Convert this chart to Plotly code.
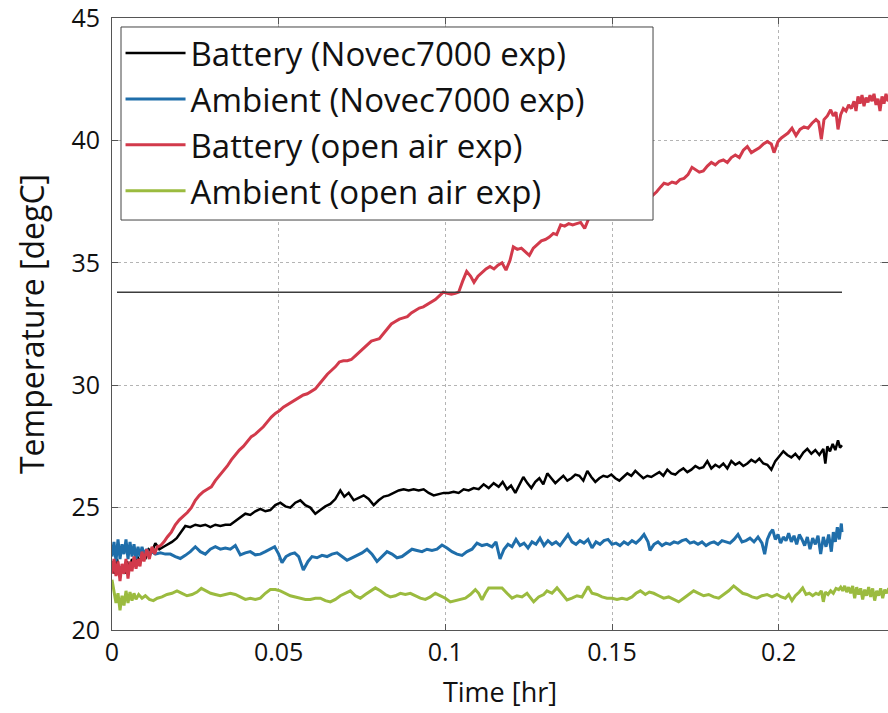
import plotly.graph_objects as go

# Time stamps [hr] and temperatures [degC] for each thermocouple record
t_bat_novec = [0.0000, 0.0008, 0.0015, 0.0022, 0.0030, 0.0038, 0.0045, 0.0052, 0.0060, 0.0068,
               0.0076, 0.0084, 0.0092, 0.0100, 0.0110, 0.0120, 0.0130, 0.0142, 0.0155, 0.0168,
               0.0180, 0.0194, 0.0207, 0.0220, 0.0235, 0.0250, 0.0265, 0.0280, 0.0295, 0.0310,
               0.0325, 0.0340, 0.0355, 0.0370, 0.0385, 0.0400, 0.0415, 0.0430, 0.0445, 0.0460,
               0.0475, 0.0490, 0.0505, 0.0520, 0.0535, 0.0550, 0.0565, 0.0580, 0.0595, 0.0610,
               0.0625, 0.0640, 0.0655, 0.0670, 0.0685, 0.0697, 0.0710, 0.0725, 0.0740, 0.0755,
               0.0770, 0.0785, 0.0800, 0.0815, 0.0830, 0.0845, 0.0860, 0.0875, 0.0890, 0.0905,
               0.0920, 0.0935, 0.0950, 0.0965, 0.0980, 0.0995, 0.1010, 0.1025, 0.1040, 0.1055,
               0.1070, 0.1085, 0.1100, 0.1115, 0.1130, 0.1145, 0.1160, 0.1172, 0.1185, 0.1197,
               0.1210, 0.1222, 0.1234, 0.1246, 0.1258, 0.1270, 0.1282, 0.1294, 0.1306, 0.1318,
               0.1330, 0.1342, 0.1354, 0.1366, 0.1378, 0.1390, 0.1402, 0.1414, 0.1426, 0.1438,
               0.1450, 0.1462, 0.1474, 0.1486, 0.1498, 0.1510, 0.1522, 0.1534, 0.1546, 0.1558,
               0.1570, 0.1582, 0.1594, 0.1606, 0.1618, 0.1630, 0.1642, 0.1654, 0.1666, 0.1678,
               0.1690, 0.1702, 0.1714, 0.1726, 0.1738, 0.1750, 0.1762, 0.1774, 0.1786, 0.1798,
               0.1810, 0.1822, 0.1834, 0.1846, 0.1858, 0.1870, 0.1882, 0.1894, 0.1906, 0.1918,
               0.1930, 0.1942, 0.1954, 0.1966, 0.1978, 0.1990, 0.2002, 0.2014, 0.2026, 0.2038,
               0.2050, 0.2062, 0.2074, 0.2086, 0.2098, 0.2110, 0.2122, 0.2134, 0.2140, 0.2146,
               0.2154, 0.2162, 0.2170, 0.2178, 0.2184, 0.2190]
T_bat_novec = [22.8, 22.3, 22.9, 22.4, 22.6, 22.3, 22.8, 22.5, 22.9, 22.6,
               23.0, 22.8, 23.1, 22.9, 23.3, 23.2, 23.55, 23.3, 23.4, 23.5,
               23.6, 23.75, 24.0, 24.25, 24.2, 24.3, 24.25, 24.3, 24.2, 24.3,
               24.25, 24.3, 24.3, 24.45, 24.6, 24.75, 24.7, 24.85, 24.95, 24.85,
               24.9, 25.1, 25.2, 25.05, 25.0, 25.2, 25.3, 25.1, 25.0, 24.75,
               24.9, 25.05, 25.15, 25.35, 25.7, 25.45, 25.6, 25.3, 25.4, 25.5,
               25.35, 25.1, 25.3, 25.45, 25.5, 25.6, 25.7, 25.75, 25.7, 25.75,
               25.7, 25.75, 25.6, 25.5, 25.55, 25.6, 25.6, 25.65, 25.6, 25.75,
               25.7, 25.8, 25.75, 25.95, 25.8, 26.0, 25.85, 26.05, 25.75, 25.9,
               25.6, 25.9, 26.25, 26.0, 25.8, 26.05, 26.2, 25.95, 26.4, 26.2,
               26.0, 26.15, 26.3, 26.1, 26.2, 26.35, 26.3, 26.1, 26.5, 26.25,
               26.05, 26.2, 26.3, 26.25, 26.35, 26.2, 26.1, 26.25, 26.4, 26.3,
               26.5, 26.35, 26.2, 26.3, 26.25, 26.35, 26.45, 26.3, 26.55, 26.4,
               26.35, 26.5, 26.6, 26.45, 26.55, 26.7, 26.6, 26.65, 26.9, 26.6,
               26.75, 26.65, 26.8, 26.6, 26.9, 26.75, 26.85, 26.7, 26.8, 26.95,
               26.85, 27.0, 26.8, 26.75, 26.55, 26.9, 27.1, 27.3, 27.15, 27.05,
               27.2, 27.0, 27.25, 27.4, 27.2, 27.35, 27.15, 27.4, 26.8, 27.5,
               27.3, 27.6, 27.35, 27.75, 27.45, 27.55]

t_amb_novec = [0.0000, 0.0006, 0.0012, 0.0018, 0.0024, 0.0030, 0.0036, 0.0042, 0.0048, 0.0054,
               0.0060, 0.0066, 0.0072, 0.0078, 0.0084, 0.0090, 0.0096, 0.0104, 0.0112, 0.0120,
               0.0130, 0.0145, 0.0160, 0.0175, 0.0190, 0.0205, 0.0220, 0.0235, 0.0250, 0.0265,
               0.0280, 0.0295, 0.0310, 0.0325, 0.0340, 0.0355, 0.0370, 0.0385, 0.0400, 0.0415,
               0.0430, 0.0445, 0.0460, 0.0475, 0.0488, 0.0500, 0.0510, 0.0522, 0.0535, 0.0548,
               0.0560, 0.0574, 0.0588, 0.0600, 0.0615, 0.0630, 0.0645, 0.0660, 0.0675, 0.0690,
               0.0705, 0.0720, 0.0735, 0.0750, 0.0765, 0.0780, 0.0795, 0.0810, 0.0825, 0.0840,
               0.0855, 0.0870, 0.0885, 0.0900, 0.0915, 0.0930, 0.0945, 0.0960, 0.0975, 0.0990,
               0.1005, 0.1020, 0.1035, 0.1050, 0.1065, 0.1080, 0.1095, 0.1110, 0.1125, 0.1140,
               0.1152, 0.1164, 0.1176, 0.1188, 0.1200, 0.1212, 0.1224, 0.1236, 0.1248, 0.1260,
               0.1272, 0.1284, 0.1296, 0.1308, 0.1320, 0.1332, 0.1344, 0.1356, 0.1368, 0.1380,
               0.1392, 0.1404, 0.1416, 0.1428, 0.1440, 0.1452, 0.1464, 0.1476, 0.1488, 0.1500,
               0.1512, 0.1524, 0.1536, 0.1548, 0.1560, 0.1572, 0.1584, 0.1596, 0.1608, 0.1614,
               0.1626, 0.1638, 0.1650, 0.1662, 0.1674, 0.1686, 0.1698, 0.1710, 0.1722, 0.1734,
               0.1746, 0.1758, 0.1770, 0.1782, 0.1794, 0.1806, 0.1818, 0.1830, 0.1842, 0.1854,
               0.1866, 0.1878, 0.1890, 0.1902, 0.1914, 0.1926, 0.1938, 0.1950, 0.1958, 0.1966,
               0.1974, 0.1982, 0.1990, 0.1998, 0.2006, 0.2014, 0.2022, 0.2030, 0.2038, 0.2046,
               0.2054, 0.2062, 0.2070, 0.2078, 0.2086, 0.2094, 0.2102, 0.2110, 0.2118, 0.2126,
               0.2134, 0.2142, 0.2150, 0.2158, 0.2164, 0.2170, 0.2176, 0.2182, 0.2188, 0.2190]
T_amb_novec = [23.0, 23.6, 22.8, 23.7, 22.9, 23.5, 23.1, 23.7, 22.9, 23.6,
               23.0, 23.5, 22.9, 23.4, 23.0, 23.4, 23.1, 23.3, 23.05, 23.2,
               23.1, 23.15, 23.1, 23.1, 23.0, 22.92, 23.05, 23.2, 23.4, 23.2,
               23.1, 23.3, 23.4, 23.3, 23.35, 23.3, 23.45, 23.07, 23.15, 23.2,
               23.07, 23.1, 23.2, 23.3, 23.4, 23.1, 22.75, 23.0, 23.1, 23.15,
               23.0, 22.45, 22.8, 23.0, 22.95, 23.05, 23.0, 23.1, 23.15, 23.0,
               22.85, 22.95, 23.05, 23.15, 23.3, 23.1, 22.8, 23.0, 23.2, 23.1,
               22.95, 23.0, 23.15, 23.3, 23.25, 23.2, 23.3, 23.25, 23.3, 23.47,
               23.35, 23.2, 23.1, 23.05, 23.2, 23.3, 23.55, 23.45, 23.5, 23.4,
               23.6, 22.9, 23.3, 23.5, 23.4, 23.7, 23.45, 23.55, 23.35, 23.6,
               23.5, 23.75, 23.45, 23.65, 23.5, 23.6, 23.45, 23.7, 23.9, 23.6,
               23.5, 23.65, 23.55, 23.7, 23.35, 23.6, 23.5, 23.65, 23.7, 23.5,
               23.55, 23.45, 23.6, 23.5, 23.65, 23.55, 23.7, 23.9, 23.6, 23.25,
               23.5, 23.6, 23.45, 23.55, 23.5, 23.6, 23.55, 23.65, 23.7, 23.55,
               23.6, 23.5, 23.6, 23.45, 23.55, 23.6, 23.5, 23.65, 23.6, 23.55,
               23.7, 23.9, 23.6, 23.65, 23.75, 23.6, 23.8, 23.55, 23.1, 23.7,
               23.95, 24.1, 23.7, 23.9, 23.55, 23.8, 23.65, 23.95, 23.6, 23.85,
               23.5, 23.9, 23.7, 23.45, 23.8, 23.3, 23.75, 23.5, 23.85, 23.1,
               23.8, 23.4, 23.9, 23.2, 24.0, 23.6, 24.2, 23.7, 24.35, 24.0]

t_bat_air = [0.0000, 0.0006, 0.0012, 0.0018, 0.0024, 0.0030, 0.0036, 0.0042, 0.0048, 0.0054,
             0.0060, 0.0066, 0.0072, 0.0078, 0.0084, 0.0090, 0.0096, 0.0104, 0.0112, 0.0120,
             0.0128, 0.0136, 0.0146, 0.0156, 0.0166, 0.0178, 0.0190, 0.0202, 0.0214, 0.0226,
             0.0238, 0.0250, 0.0262, 0.0274, 0.0286, 0.0298, 0.0310, 0.0322, 0.0334, 0.0346,
             0.0358, 0.0370, 0.0382, 0.0394, 0.0406, 0.0418, 0.0430, 0.0442, 0.0454, 0.0466,
             0.0478, 0.0490, 0.0502, 0.0514, 0.0526, 0.0538, 0.0550, 0.0562, 0.0574, 0.0586,
             0.0598, 0.0610, 0.0622, 0.0634, 0.0646, 0.0658, 0.0670, 0.0682, 0.0694, 0.0706,
             0.0718, 0.0730, 0.0742, 0.0754, 0.0766, 0.0778, 0.0790, 0.0802, 0.0814, 0.0826,
             0.0838, 0.0850, 0.0862, 0.0874, 0.0886, 0.0898, 0.0910, 0.0922, 0.0934, 0.0946,
             0.0958, 0.0970, 0.0982, 0.0994, 0.1006, 0.1018, 0.1030, 0.1040, 0.1052, 0.1064,
             0.1076, 0.1086, 0.1098, 0.1110, 0.1122, 0.1134, 0.1146, 0.1158, 0.1170, 0.1182,
             0.1194, 0.1204, 0.1216, 0.1228, 0.1240, 0.1252, 0.1264, 0.1276, 0.1288, 0.1300,
             0.1312, 0.1324, 0.1334, 0.1346, 0.1358, 0.1370, 0.1382, 0.1394, 0.1406, 0.1418,
             0.1430, 0.1442, 0.1454, 0.1466, 0.1478, 0.1490, 0.1502, 0.1514, 0.1526, 0.1538,
             0.1550, 0.1562, 0.1574, 0.1586, 0.1598, 0.1610, 0.1622, 0.1634, 0.1646, 0.1656,
             0.1668, 0.1680, 0.1692, 0.1704, 0.1716, 0.1728, 0.1740, 0.1752, 0.1762, 0.1774,
             0.1786, 0.1798, 0.1810, 0.1822, 0.1834, 0.1846, 0.1858, 0.1870, 0.1882, 0.1894,
             0.1906, 0.1918, 0.1930, 0.1942, 0.1954, 0.1966, 0.1978, 0.1986, 0.1998, 0.2008,
             0.2018, 0.2028, 0.2040, 0.2052, 0.2064, 0.2076, 0.2088, 0.2100, 0.2112, 0.2120,
             0.2128, 0.2136, 0.2146, 0.2156, 0.2164, 0.2172, 0.2178, 0.2186, 0.2194, 0.2202,
             0.2210, 0.2218, 0.2226, 0.2232, 0.2238, 0.2244, 0.2250, 0.2256, 0.2262, 0.2268,
             0.2274, 0.2280, 0.2286, 0.2292, 0.2298, 0.2304, 0.2310, 0.2316, 0.2322, 0.2328,
             0.2334]
T_bat_air = [22.3, 22.9, 22.2, 22.8, 22.0, 22.7, 22.3, 22.9, 22.1, 22.8,
             22.4, 23.0, 22.5, 22.9, 22.6, 23.2, 22.8, 23.3, 22.9, 23.4,
             23.1, 23.4, 23.45, 23.6, 23.8, 24.0, 24.3, 24.5, 24.65, 24.8,
             25.0, 25.3, 25.5, 25.65, 25.75, 25.85, 26.1, 26.3, 26.5, 26.7,
             26.95, 27.15, 27.35, 27.5, 27.7, 27.9, 28.0, 28.15, 28.3, 28.5,
             28.7, 28.85, 28.95, 29.1, 29.2, 29.3, 29.4, 29.5, 29.6, 29.65,
             29.75, 29.85, 30.05, 30.25, 30.45, 30.6, 30.75, 30.95, 31.0, 31.0,
             31.05, 31.2, 31.35, 31.5, 31.65, 31.8, 31.85, 31.9, 32.1, 32.3,
             32.5, 32.6, 32.7, 32.75, 32.8, 32.95, 33.05, 33.15, 33.2, 33.3,
             33.4, 33.5, 33.65, 33.8, 33.75, 33.72, 33.75, 33.8, 34.25, 34.65,
             34.45, 34.2, 34.45, 34.6, 34.75, 34.85, 34.75, 34.9, 35.0, 34.7,
             35.1, 35.65, 35.55, 35.6, 35.45, 35.3, 35.6, 35.75, 35.9, 35.95,
             36.05, 36.2, 36.15, 36.55, 36.5, 36.6, 36.55, 36.6, 36.65, 36.4,
             36.8, 37.0, 37.05, 37.1, 37.2, 37.3, 37.25, 37.4, 37.45, 37.5,
             37.45, 37.6, 37.55, 37.65, 37.7, 37.6, 37.75, 37.9, 38.1, 38.25,
             38.2, 38.3, 38.25, 38.4, 38.45, 38.6, 38.9, 38.8, 38.7, 38.75,
             38.95, 39.1, 39.0, 39.15, 39.2, 39.1, 39.3, 39.4, 39.3, 39.6,
             39.75, 39.5, 39.6, 39.7, 39.85, 39.95, 39.85, 39.5, 39.95, 40.1,
             40.2, 40.3, 40.5, 40.2, 40.45, 40.55, 40.5, 40.7, 40.85, 40.75,
             40.05, 40.85, 41.0, 41.25, 41.0, 41.15, 40.45, 41.05, 41.3, 41.2,
             41.45, 41.3, 41.6, 41.2, 41.8, 41.5, 41.85, 41.4, 41.75, 41.55,
             41.85, 41.6, 41.9, 41.45, 41.7, 41.2, 41.8, 41.5, 41.9, 41.6,
             41.8]

t_amb_air = [0.0000, 0.0006, 0.0012, 0.0018, 0.0024, 0.0030, 0.0036, 0.0042, 0.0048, 0.0054,
             0.0060, 0.0066, 0.0072, 0.0080, 0.0090, 0.0100, 0.0112, 0.0124, 0.0136, 0.0150,
             0.0165, 0.0180, 0.0195, 0.0210, 0.0225, 0.0240, 0.0255, 0.0268, 0.0282, 0.0296,
             0.0310, 0.0325, 0.0340, 0.0355, 0.0370, 0.0385, 0.0400, 0.0415, 0.0430, 0.0445,
             0.0460, 0.0475, 0.0490, 0.0505, 0.0520, 0.0535, 0.0550, 0.0565, 0.0580, 0.0595,
             0.0610, 0.0625, 0.0640, 0.0655, 0.0670, 0.0685, 0.0700, 0.0715, 0.0730, 0.0745,
             0.0760, 0.0775, 0.0790, 0.0805, 0.0820, 0.0835, 0.0850, 0.0865, 0.0880, 0.0895,
             0.0910, 0.0925, 0.0940, 0.0955, 0.0970, 0.0985, 0.1000, 0.1015, 0.1030, 0.1045,
             0.1060, 0.1075, 0.1090, 0.1100, 0.1110, 0.1120, 0.1130, 0.1150, 0.1170, 0.1185,
             0.1200, 0.1215, 0.1230, 0.1245, 0.1255, 0.1265, 0.1280, 0.1295, 0.1305, 0.1320,
             0.1335, 0.1350, 0.1365, 0.1380, 0.1395, 0.1410, 0.1428, 0.1440, 0.1455, 0.1470,
             0.1485, 0.1500, 0.1515, 0.1530, 0.1545, 0.1560, 0.1572, 0.1585, 0.1600, 0.1612,
             0.1625, 0.1640, 0.1655, 0.1670, 0.1685, 0.1700, 0.1715, 0.1730, 0.1745, 0.1760,
             0.1775, 0.1790, 0.1805, 0.1820, 0.1835, 0.1850, 0.1865, 0.1878, 0.1892, 0.1905,
             0.1920, 0.1935, 0.1950, 0.1965, 0.1980, 0.1995, 0.2008, 0.2020, 0.2030, 0.2040,
             0.2050, 0.2062, 0.2072, 0.2082, 0.2092, 0.2102, 0.2112, 0.2120, 0.2128, 0.2134,
             0.2140, 0.2148, 0.2156, 0.2164, 0.2172, 0.2180, 0.2186, 0.2192, 0.2198, 0.2204,
             0.2210, 0.2216, 0.2222, 0.2228, 0.2234, 0.2240, 0.2246, 0.2252, 0.2258, 0.2264,
             0.2270, 0.2276, 0.2282, 0.2288, 0.2294, 0.2300, 0.2306, 0.2312, 0.2318, 0.2324,
             0.2330, 0.2336]
T_amb_air = [22.05, 21.6, 21.1, 21.5, 20.8, 21.4, 21.0, 21.6, 21.1, 21.55,
             21.2, 21.5, 21.25, 21.45, 21.3, 21.4, 21.25, 21.2, 21.3, 21.35,
             21.45, 21.5, 21.6, 21.5, 21.4, 21.45, 21.55, 21.7, 21.6, 21.5,
             21.45, 21.4, 21.45, 21.5, 21.45, 21.35, 21.25, 21.3, 21.25, 21.3,
             21.5, 21.65, 21.65, 21.6, 21.5, 21.4, 21.35, 21.3, 21.25, 21.25,
             21.3, 21.3, 21.2, 21.15, 21.25, 21.4, 21.5, 21.6, 21.4, 21.3,
             21.45, 21.6, 21.72, 21.6, 21.45, 21.35, 21.4, 21.5, 21.45, 21.5,
             21.4, 21.3, 21.25, 21.35, 21.5, 21.4, 21.3, 21.15, 21.2, 21.25,
             21.3, 21.45, 21.65, 21.5, 21.23, 21.5, 21.72, 21.72, 21.72, 21.5,
             21.3, 21.4, 21.35, 21.5, 21.3, 21.15, 21.35, 21.45, 21.6, 21.5,
             21.72, 21.45, 21.23, 21.3, 21.4, 21.35, 21.78, 21.5, 21.45, 21.35,
             21.3, 21.3, 21.25, 21.3, 21.25, 21.35, 21.5, 21.6, 21.45, 21.55,
             21.5, 21.4, 21.3, 21.35, 21.25, 21.15, 21.3, 21.45, 21.6, 21.5,
             21.4, 21.45, 21.35, 21.3, 21.45, 21.6, 21.8, 21.65, 21.5, 21.45,
             21.35, 21.3, 21.4, 21.45, 21.35, 21.45, 21.35, 21.3, 21.45, 21.2,
             21.4, 21.55, 21.72, 21.45, 21.5, 21.4, 21.5, 21.45, 21.6, 21.15,
             21.55, 21.45, 21.6, 21.5, 21.7, 21.65, 21.75, 21.6, 21.8, 21.55,
             21.75, 21.5, 21.8, 21.3, 21.75, 21.45, 21.7, 21.25, 21.65, 21.4,
             21.75, 21.35, 21.7, 21.2, 21.6, 21.4, 21.7, 21.3, 21.65, 21.5,
             21.7, 21.4]

# Reference level drawn across the Novec7000 run
ref_t = [0.0015, 0.2190]
ref_T = [33.8, 33.8]

series_names = ["Battery (Novec7000 exp)", "Ambient (Novec7000 exp)",
                "Battery (open air exp)", "Ambient (open air exp)"]
series_colors = ["#000000", "#1f6eaa", "#d23a4b", "#9bbb3f"]

x_ticks = [0, 0.05, 0.1, 0.15, 0.2]
x_tick_text = ["0", "0.05", "0.1", "0.15", "0.2"]
y_ticks = [20, 25, 30, 35, 40, 45]

FONT = "Open Sans"
AXIS_COL = "#555555"
GRID_COL = "#b4b4b4"
X_RANGE = [0, 0.2328]
Y_RANGE = [20, 45]

# Legend frame (paper fractions of the plot area)
LEG_BOX = dict(x0=0.0116, x1=0.6972, y0=0.6699, y1=0.9853)

fig = go.Figure()

fig.add_trace(go.Scatter(x=ref_t, y=ref_T, mode="lines", yaxis="y2",
                         line=dict(color="#3c3c3c", width=1.5),
                         showlegend=False, hoverinfo="skip"))

for t, T, name, col, w in zip([t_bat_novec, t_amb_novec, t_bat_air, t_amb_air],
                              [T_bat_novec, T_amb_novec, T_bat_air, T_amb_air],
                              series_names, series_colors, [2.5, 3, 3, 3]):
    fig.add_trace(go.Scatter(x=t, y=T, mode="lines", name=name,
                             line=dict(color=col, width=w)))

# white framed panel behind the legend entries
fig.add_shape(type="rect", xref="paper", yref="paper", layer="above",
              line=dict(color="#444444", width=1), fillcolor="white", **LEG_BOX)

fig.update_layout(
    width=888, height=713,
    margin=dict(l=112, r=0, t=18, b=83),
    paper_bgcolor="white", plot_bgcolor="white",
    font=dict(family=FONT, color="#111111", size=25),
    showlegend=True,
    legend=dict(
        x=0.011, y=0.9885, xanchor="left", yanchor="top",
        bgcolor="rgba(0,0,0,0)", borderwidth=0,
        font=dict(family=FONT, size=33, color="#111111"),
        itemwidth=60, tracegroupgap=0,
    ),
    xaxis=dict(
        range=X_RANGE, tickvals=x_ticks, ticktext=x_tick_text,
        showline=True, linecolor=AXIS_COL, linewidth=1, mirror="ticks",
        ticks="inside", ticklen=6, tickcolor=AXIS_COL,
        showgrid=True, gridcolor=GRID_COL, griddash="dot", gridwidth=1,
        zeroline=False, ticklabelstandoff=0, ticklabeloverflow="allow",
        tickfont=dict(size=25),
        title=dict(text="Time [hr]", font=dict(size=27), standoff=16),
    ),
    yaxis=dict(
        range=Y_RANGE, tickvals=y_ticks,
        showline=True, linecolor=AXIS_COL, linewidth=1,
        ticks="inside", ticklen=6, tickcolor=AXIS_COL,
        showgrid=True, gridcolor=GRID_COL, griddash="dot", gridwidth=1,
        zeroline=False, ticklabelstandoff=6, ticklabeloverflow="allow",
        tickfont=dict(size=25),
        title=dict(text="Temperature [degC]", font=dict(size=32), standoff=17),
    ),
    yaxis2=dict(
        range=Y_RANGE, tickvals=y_ticks, overlaying="y", side="right",
        showline=False, showgrid=False, showticklabels=False, zeroline=False,
        ticks="inside", ticklen=6, tickcolor=AXIS_COL,
    ),
)

fig.write_html("out.html")
